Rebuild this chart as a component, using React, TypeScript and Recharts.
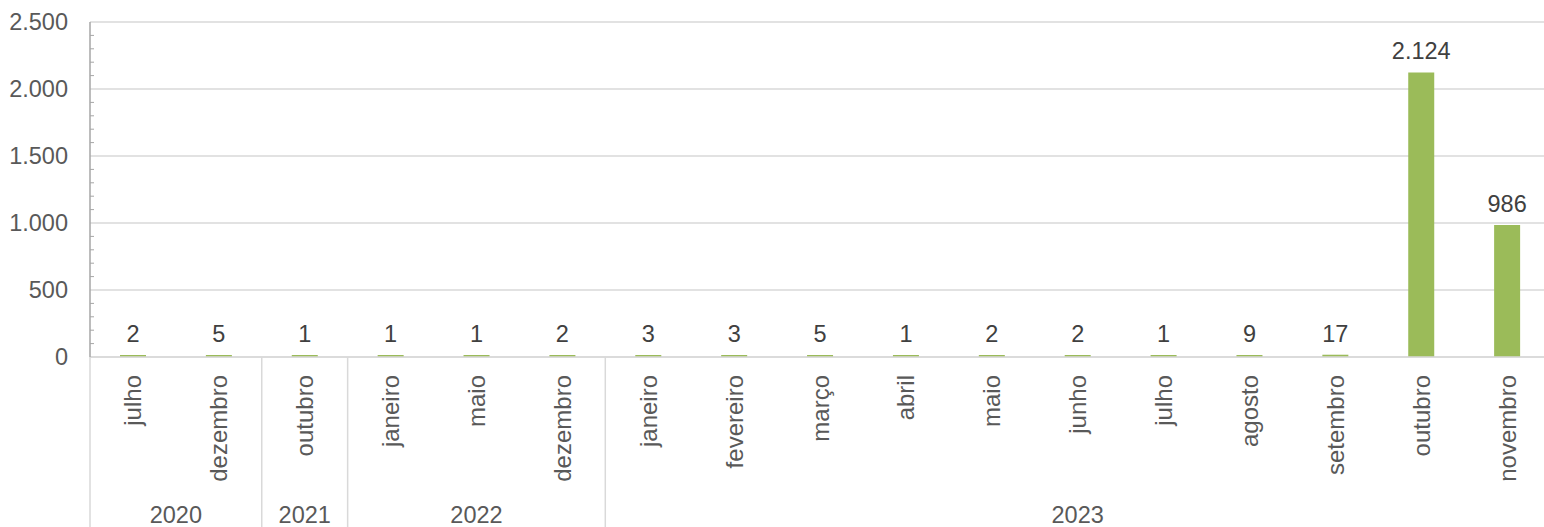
import { BarChart, Bar, XAxis, YAxis, CartesianGrid, LabelList } from 'recharts'

const months = ['julho', 'dezembro', 'outubro', 'janeiro', 'maio', 'dezembro', 'janeiro', 'fevereiro', 'março', 'abril', 'maio', 'junho', 'julho', 'agosto', 'setembro', 'outubro', 'novembro']
const years = ['2020', '2020', '2021', '2022', '2022', '2022', '2023', '2023', '2023', '2023', '2023', '2023', '2023', '2023', '2023', '2023', '2023']
const values = [2, 5, 1, 1, 1, 2, 3, 3, 5, 1, 2, 2, 1, 9, 17, 2124, 986]
const majorTicks = [0, 500, 1000, 1500, 2000, 2500]
const allTicks = Array.from({ length: 26 }, (_, i) => i * 100)

const data = months.map((m, i) => ({ key: `${years[i]}-${i}-${m}`, value: values[i] }))

const W = 1550
const H = 527
const TOP = 22
const AXIS_W = 90
const X_AXIS_H = 170
const BAND = (W - AXIS_W) / months.length
const AXIS_Y = H - X_AXIS_H
const FONT = 'Liberation Sans, Arial, sans-serif'
const TEXT = '#595959'
const FS = 23.5

const fmt = (v: number) => new Intl.NumberFormat('pt-BR').format(v)

function YTick(props: any) {
  const { y, payload } = props
  const v = payload.value as number
  if (v % 500 !== 0) {
    return <line x1={AXIS_W} x2={AXIS_W + 4} y1={y} y2={y} stroke="#a6a6a6" strokeWidth={1} />
  }
  return (
    <text x={68} y={y} textAnchor="end" dominantBaseline="central" fontSize={FS} fontFamily={FONT} fill={TEXT}>
      {fmt(v)}
    </text>
  )
}

// month labels rotated, plus year separators and year captions under each group
function XTick(props: any) {
  const { x, index } = props
  const first = index === 0 || years[index] !== years[index - 1]
  let count = 0
  if (first) {
    while (index + count < years.length && years[index + count] === years[index]) count++
  }
  const ty = 375
  return (
    <g>
      <text
        x={x}
        y={ty}
        transform={`rotate(-90 ${x} ${ty})`}
        textAnchor="end"
        dominantBaseline="central"
        fontSize={24}
        fontFamily={FONT}
        fill={TEXT}
      >
        {months[index]}
      </text>
      {first && (
        <>
          <line x1={x - BAND / 2} x2={x - BAND / 2} y1={AXIS_Y} y2={H} stroke="#d9d9d9" strokeWidth={1.5} />
          <text
            x={x + ((count - 1) / 2) * BAND}
            y={515}
            textAnchor="middle"
            dominantBaseline="central"
            fontSize={FS}
            fontFamily={FONT}
            fill={TEXT}
          >
            {years[index]}
          </text>
        </>
      )}
    </g>
  )
}

export default function App() {
  return (
    <div style={{ position: 'absolute', left: 0, top: 0, width: 1544, height: H, overflow: 'hidden', background: '#fff' }}>
      <BarChart width={W} height={H} data={data} margin={{ top: TOP, right: 0, left: 0, bottom: 0 }}>
        <CartesianGrid vertical={false} horizontalValues={majorTicks} stroke="#d9d9d9" strokeWidth={1.5} />
        <XAxis
          dataKey="key"
          interval={0}
          height={X_AXIS_H}
          tickLine={false}
          axisLine={{ stroke: '#d9d9d9', strokeWidth: 1.5 }}
          tick={<XTick />}
        />
        <YAxis
          width={AXIS_W}
          domain={[0, 2500]}
          ticks={allTicks}
          interval={0}
          tickLine={false}
          axisLine={{ stroke: '#a6a6a6', strokeWidth: 1.5 }}
          tick={<YTick />}
        />
        <Bar dataKey="value" fill="#9bbb59" barSize={26} minPointSize={2} isAnimationActive={false}>
          <LabelList dataKey="value" position="top" offset={13} formatter={(v: any) => fmt(Number(v))} fontSize={FS} fontFamily={FONT} fill="#404040" />
        </Bar>
      </BarChart>
    </div>
  )
}
